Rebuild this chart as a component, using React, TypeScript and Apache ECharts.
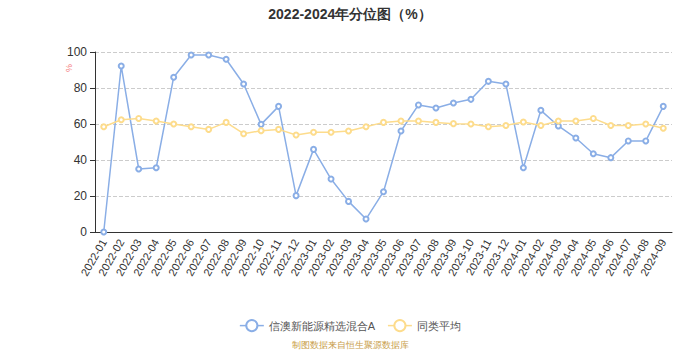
import React, { useEffect, useRef } from "react";
import * as echarts from "echarts";

const categories = [
  "2022-01","2022-02","2022-03","2022-04","2022-05","2022-06","2022-07","2022-08","2022-09","2022-10","2022-11","2022-12",
  "2023-01","2023-02","2023-03","2023-04","2023-05","2023-06","2023-07","2023-08","2023-09","2023-10","2023-11","2023-12",
  "2024-01","2024-02","2024-03","2024-04","2024-05","2024-06","2024-07","2024-08","2024-09",
];

const fundValues = [
  0, 92.2, 35, 35.7, 86, 98.3, 98.3, 96, 82.2, 59.8, 69.8, 20.2,
  45.9, 29.4, 17, 7.2, 22.4, 56.1, 70.6, 68.9, 71.7, 73.7, 83.7, 82.2,
  35.7, 67.6, 58.9, 52.2, 43.5, 41.3, 50.6, 50.6, 69.8,
];

const avgValues = [
  58.5, 62.4, 63.1, 61.7, 60, 58.5, 57, 60.9, 54.6, 56.3, 57, 53.9,
  55.4, 55.4, 56.1, 58.5, 60.9, 61.7, 61.7, 60.9, 60.2, 60, 58.5, 59.2,
  61.1, 59.2, 61.7, 61.7, 63.1, 59.2, 59.2, 60, 57.6,
];

const seriesNames = ["信澳新能源精选混合A", "同类平均"];

export default function App() {
  const ref = useRef<HTMLDivElement>(null);
  useEffect(() => {
    document.body.style.margin = "0";
    if (!ref.current) return;
    const chart = echarts.init(ref.current, null, { renderer: "svg" });
    chart.setOption({
      animation: false,
      title: {
        text: "2022-2024年分位图（%）",
        left: "center",
        top: 2,
        textStyle: { fontSize: 14, fontWeight: "bold", color: "#333" },
      },
      grid: { left: 95, right: 28, top: 52, bottom: 118 },
      legend: {
        top: 314,
        left: "center",
        itemWidth: 24,
        itemHeight: 14,
        itemGap: 12,
        itemStyle: { borderWidth: 1 },
        lineStyle: { width: 1.5 },
        textStyle: { fontSize: 11, color: "#555" },
        data: seriesNames,
      },
      graphic: [
        {
          type: "text",
          left: 64,
          top: 64,
          rotation: Math.PI / 2,
          style: { text: "%", fill: "#f47c7c", fontSize: 9 },
        },
        {
          type: "text",
          left: "center",
          top: 340,
          style: { text: "制图数据来自恒生聚源数据库", fill: "#c9a04a", fontSize: 9 },
        },
      ],
      xAxis: {
        type: "category",
        data: categories,
        boundaryGap: true,
        axisLine: { lineStyle: { color: "#333" } },
        axisTick: { alignWithLabel: false, lineStyle: { color: "#333" } },
        axisLabel: { rotate: 60, interval: 0, fontSize: 11, color: "#333" },
      },
      yAxis: {
        type: "value",
        min: 0,
        max: 100,
        interval: 20,
        axisLine: { show: true, lineStyle: { color: "#333" } },
        axisTick: { show: true, lineStyle: { color: "#333" } },
        axisLabel: { fontSize: 12, color: "#333" },
        splitLine: { lineStyle: { type: "dashed", color: "#ccc" } },
      },
      series: [
        {
          name: seriesNames[0],
          type: "line",
          data: fundValues,
          symbol: "emptyCircle",
          symbolSize: 5,
          itemStyle: { color: "#8aaee6", borderWidth: 1 },
          lineStyle: { width: 1.5, color: "#8aaee6" },
        },
        {
          name: seriesNames[1],
          type: "line",
          data: avgValues,
          symbol: "emptyCircle",
          symbolSize: 5,
          itemStyle: { color: "#fddc8c", borderWidth: 1 },
          lineStyle: { width: 1.5, color: "#fddc8c" },
        },
      ],
    });
    return () => chart.dispose();
  }, []);
  return <div ref={ref} style={{ width: 700, height: 350 }} />;
}
